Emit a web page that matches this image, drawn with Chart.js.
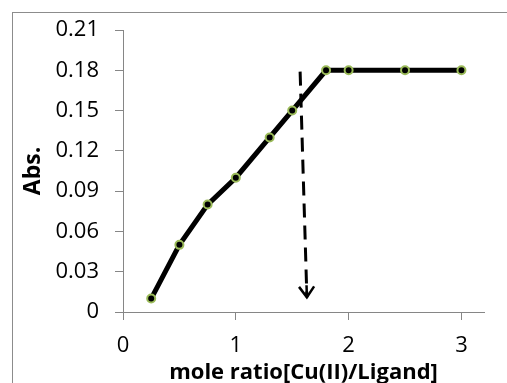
<!DOCTYPE html>
<html>
<head>
<meta charset="utf-8">
<script src="https://cdn.jsdelivr.net/npm/chart.js@4"></script>
<style>
  html, body { margin: 0; padding: 0; background: #fff; }
  #wrap { position: relative; width: 507px; height: 383px; }
</style>
</head>
<body>
<div id="wrap"><canvas id="chart" width="507" height="383"></canvas></div>
<script>
const moleRatio = [0.25, 0.5, 0.75, 1.0, 1.3, 1.5, 1.8, 2.0, 2.5, 3.0];
const absorbance = [0.01, 0.05, 0.08, 0.10, 0.13, 0.15, 0.18, 0.18, 0.18, 0.18];
// dashed arrow marking the break point
const arrowX = [1.57, 1.63];
const arrowY = [0.179, 0.011];
const xTicks = [0, 1, 2, 3];

const axisGray = "#868686";
const font = "'Open Sans', 'Liberation Sans', sans-serif";

// outer frame + arrowhead at the end of the dashed line
const extras = {
  id: "extras",
  beforeDraw(chart) {
    const ctx = chart.ctx;
    ctx.save();
    ctx.strokeStyle = "#8c8c8c";
    ctx.lineWidth = 1;
    ctx.strokeRect(12.5, 12.5, 700, 600);
    ctx.restore();
  },
  afterDatasetsDraw(chart) {
    const meta = chart.getDatasetMeta(1);
    const p0 = meta.data[0], p1 = meta.data[1];
    const ang = Math.atan2(p1.y - p0.y, p1.x - p0.x);
    const len = 13, spread = 0.62;
    const ctx = chart.ctx;
    ctx.save();
    ctx.strokeStyle = "#000";
    ctx.lineWidth = 2.5;
    ctx.beginPath();
    ctx.moveTo(p1.x - len * Math.cos(ang - spread), p1.y - len * Math.sin(ang - spread));
    ctx.lineTo(p1.x, p1.y);
    ctx.lineTo(p1.x - len * Math.cos(ang + spread), p1.y - len * Math.sin(ang + spread));
    ctx.moveTo(p1.x - 12 * Math.cos(ang), p1.y - 12 * Math.sin(ang));
    ctx.lineTo(p1.x, p1.y);
    ctx.stroke();
    ctx.restore();
  }
};

new Chart(document.getElementById("chart"), {
  type: "scatter",
  data: {
    datasets: [
      {
        data: moleRatio.map((x, i) => ({ x, y: absorbance[i] })),
        showLine: true,
        borderColor: "#000",
        borderWidth: 5,
        tension: 0,
        pointRadius: 4,
        pointBorderWidth: 2,
        pointBackgroundColor: "#000",
        pointBorderColor: "#9bbb59",
      },
      {
        data: arrowX.map((x, i) => ({ x, y: arrowY[i] })),
        showLine: true,
        borderColor: "#000",
        borderWidth: 3,
        borderDash: [14, 8],
        pointRadius: 0,
      },
    ],
  },
  options: {
    responsive: false,
    animation: false,
    layout: { padding: { top: 30, right: 23, left: 0, bottom: 0 } },
    plugins: { legend: { display: false }, tooltip: { enabled: false } },
    scales: {
      x: {
        type: "linear",
        min: 0,
        max: 3.2,
        afterBuildTicks: (scale) => { scale.ticks = xTicks.map(v => ({ value: v })); },
        afterFit: (scale) => { scale.height = 71; },
        border: { color: axisGray, width: 1 },
        grid: { drawOnChartArea: false, color: axisGray, tickLength: 8 },
        ticks: { color: "#000", padding: 13, font: { family: font, size: 22 } },
        title: {
          display: true,
          text: "mole ratio[Cu(II)/Ligand]",
          color: "#000",
          padding: { top: 0, bottom: -3 },
          font: { family: font, size: 22, weight: "bold" },
        },
      },
      y: {
        min: 0,
        max: 0.21,
        ticks: {
          stepSize: 0.03,
          color: "#000",
          padding: 16,
          font: { family: font, size: 22 },
          callback: (v) => (v === 0 ? "0" : v.toFixed(2)),
        },
        afterFit: (scale) => { scale.width = 123; },
        border: { color: axisGray, width: 1 },
        grid: { drawOnChartArea: false, color: axisGray, tickLength: 8 },
        title: {
          display: true,
          text: "Abs.",
          color: "#000",
          padding: { top: 20, bottom: 0 },
          font: { family: font, size: 23, weight: "bold" },
        },
      },
    },
  },
  plugins: [extras],
});
</script>
</body>
</html>
